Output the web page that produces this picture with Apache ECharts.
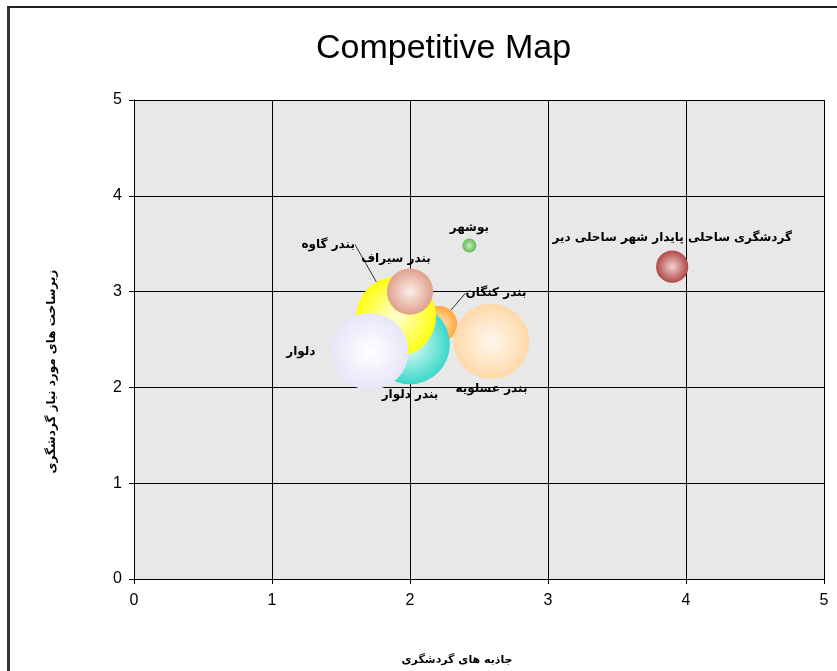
<!DOCTYPE html>
<html>
<head>
<meta charset="utf-8">
<script src="https://cdn.jsdelivr.net/npm/echarts@6/dist/echarts.min.js"></script>
<style>
    html, body { margin: 0; padding: 0; background: #fff; }
    #frame {
        position: absolute;
        left: 7px;
        top: 6px;
        width: 840px;
        height: 680px;
        border-left: 3px solid #333;
        border-top: 2px solid #222;
    }
    #chart { position: absolute; left: 0; top: 0; width: 837px; height: 671px; }
</style>
</head>
<body>
<div id="frame"></div>
<div id="chart"></div>
<script>
// 名称 / 坐标 / 气泡大小
var names = ['بندر کنگان', 'بندر دلوار', 'بندر گاوه', 'بندر سیراف', 'دلوار', 'بندر عسلویه', 'بوشهر', 'گردشگری ساحلی پایدار شهر ساحلی دیر'];
var attractions = [2.21, 2.0, 1.9, 2.0, 1.71, 2.59, 2.43, 3.9]; // x
var infrastructure = [2.66, 2.45, 2.74, 3.0, 2.375, 2.48, 3.48, 3.26]; // y
var bubbleSize = [2.6, 5.7, 5.7, 3.3, 5.5, 5.4, 1.0, 2.3];
var xTicks = [0, 1, 2, 3, 4, 5];
var yTicks = [0, 1, 2, 3, 4, 5];

var colors = [
    ['#ffe8c8', '#ffa838'],
    ['#e8fcf8', '#3ad8c8'],
    ['#ffffd0', '#ffff10'],
    ['#fbeee8', '#e0a08c'],
    ['#ffffff', '#e6e6f8'],
    ['#fff8ee', '#ffd9a8'],
    ['#c8ecc0', '#60b850'],
    ['#f0d0d0', '#b04848']
];

// label placement: position, distance, shift [dx, dy], callout line
var labelCfg = [
    { position: 'inside', move: [57, -31], line: true },
    { position: 'bottom', distance: 5 },
    { position: 'inside', move: [-68, -72], line: true },
    { position: 'top', distance: 4, move: [-14, 0] },
    { position: 'left', distance: 16 },
    { position: 'bottom', distance: 4 },
    { position: 'top', distance: 5 },
    { position: 'top', distance: 7 }
];

var seriesData = names.map(function (n, i) {
    var c = labelCfg[i];
    var item = {
        name: n,
        value: [attractions[i], infrastructure[i], bubbleSize[i]],
        itemStyle: {
            opacity: 1,
            color: new echarts.graphic.RadialGradient(0.5, 0.5, 0.5, [
                { offset: 0, color: colors[i][0] },
                { offset: 1, color: colors[i][1] }
            ])
        },
        label: {
            position: c.position,
            distance: c.distance || 0
        }
    };
    if (c.line) {
        item.labelLine = { show: true, lineStyle: { color: '#333', width: 1 } };
    }
    return item;
});

var chart = echarts.init(document.getElementById('chart'));
var option = {
    animation: false,
    title: {
        text: 'Competitive Map',
        left: 311,
        top: 27,
        textStyle: {
            fontFamily: 'Liberation Sans',
            fontSize: 34,
            fontWeight: 'normal',
            color: '#000'
        }
    },
    grid: {
        left: 134,
        top: 100,
        right: 13,
        bottom: 91,
        show: true,
        backgroundColor: '#e8e8e8',
        borderWidth: 0
    },
    xAxis: {
        type: 'value',
        min: 0,
        max: 5,
        interval: 1,
        name: 'جاذبه های گردشگری',
        nameLocation: 'middle',
        nameGap: 76,
        nameTextStyle: {
            fontFamily: 'DejaVu Sans',
            fontWeight: 'bold',
            fontSize: 11,
            color: '#000',
            padding: [0, 44, 0, 0]
        },
        axisLine: { show: true, onZero: false, lineStyle: { color: '#000', width: 1 } },
        axisTick: { show: true, length: 5, lineStyle: { color: '#000' } },
        axisLabel: {
            fontFamily: 'Liberation Sans',
            fontSize: 16,
            color: '#000',
            margin: 14,
            formatter: function (v) { return xTicks.indexOf(v) >= 0 ? String(v) : ''; }
        },
        splitLine: { show: true, lineStyle: { color: '#000', width: 1 } }
    },
    yAxis: {
        type: 'value',
        min: 0,
        max: 5,
        interval: 1,
        name: 'زیرساخت های مورد نیاز گردشگری',
        nameLocation: 'middle',
        nameGap: 76,
        nameTextStyle: {
            fontFamily: 'DejaVu Sans',
            fontWeight: 'bold',
            fontSize: 12,
            color: '#000',
            padding: [0, 64, 0, 0]
        },
        axisLine: { show: true, onZero: false, lineStyle: { color: '#000', width: 1 } },
        axisTick: { show: true, length: 5, lineStyle: { color: '#000' } },
        axisLabel: {
            fontFamily: 'Liberation Sans',
            fontSize: 16,
            color: '#000',
            margin: 12,
            formatter: function (v) { return yTicks.indexOf(v) >= 0 ? String(v) : ''; }
        },
        splitLine: { show: true, lineStyle: { color: '#000', width: 1 } }
    },
    series: [
        {
            type: 'scatter',
            symbol: 'circle',
            symbolSize: function (val) {
                return val[2] * 14;
            },
            label: {
                show: true,
                formatter: '{b}',
                fontFamily: 'DejaVu Sans',
                fontWeight: 'bold',
                fontSize: 12,
                color: '#000'
            },
            labelLayout: function (p) {
                var m = labelCfg[p.dataIndex].move;
                return m ? { dx: m[0], dy: m[1], hideOverlap: false } : { hideOverlap: false };
            },
            data: seriesData
        }
    ]
};
chart.setOption(option);
</script>
</body>
</html>
